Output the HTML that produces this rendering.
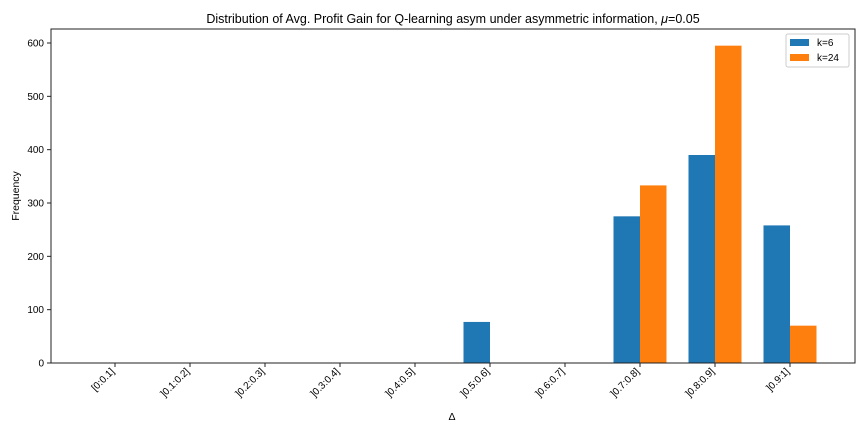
<!DOCTYPE html>
<html><head><meta charset="utf-8"><style>
body{margin:0;background:#fff}
svg{font-family:"Liberation Sans","DejaVu Sans",sans-serif}
</style></head><body>
<svg id="chart" width="864" height="432">
<rect width="864" height="432" fill="#fff"/>
<text x="453" y="23" font-size="12.5" text-anchor="middle">Distribution of Avg. Profit Gain for Q-learning asym under asymmetric information, <tspan font-style="italic">μ</tspan>=0.05</text>
<g id="bars"></g>
<g id="yaxis"></g>
<g id="xaxis"></g>
<rect x="51" y="29" width="804" height="334" fill="none" stroke="#222" stroke-width="1"/>
<text x="19" y="196" font-size="10.5" text-anchor="middle" transform="rotate(-90 19 196)">Frequency</text>
<text x="452" y="420" font-size="10.5" text-anchor="middle">Δ</text>
<g>
<rect x="786" y="34" width="63" height="33" fill="#fff" stroke="#ccc" rx="2"/>
<rect x="790" y="39" width="19" height="7" fill="#1f77b4"/>
<text x="817" y="46" font-size="10">k=6</text>
<rect x="790" y="54" width="19" height="7" fill="#ff7f0e"/>
<text x="817" y="61" font-size="10">k=24</text>
</g>
</svg>
<script>
const categories=["[0:0.1]","]0.1:0.2]","]0.2:0.3]","]0.3:0.4]","]0.4:0.5]","]0.5:0.6]","]0.6:0.7]","]0.7:0.8]","]0.8:0.9]","]0.9:1]"];
const seriesK6=[0,0,0,0,0,77,0,275,390,258];
const seriesK24=[0,0,0,0,0,0,0,333,595,70];
const yTicks=[0,100,200,300,400,500,600];
const NS="http://www.w3.org/2000/svg";
function xPos(i){return 115+i*75;}
function yPos(v){return 363-v*(320/600);}
function mk(tag,attrs,parent){const e=document.createElementNS(NS,tag);for(const k in attrs)e.setAttribute(k,attrs[k]);parent.appendChild(e);return e;}
const bars=document.getElementById('bars'),ya=document.getElementById('yaxis'),xa=document.getElementById('xaxis');
const bw=26.5;
categories.forEach((c,i)=>{
  [[seriesK6,'#1f77b4',-1,'k6'],[seriesK24,'#ff7f0e',0,'k24']].forEach(([s,col,off,nm])=>{
    const v=s[i]; if(v<=0)return;
    const r=mk('rect',{x:xPos(i)+off*bw,y:yPos(v),width:bw,height:yPos(0)-yPos(v),fill:col},bars);
    
    
  });
  const x=xPos(i);
  mk('line',{x1:x,x2:x,y1:363,y2:367,stroke:'#222'},xa);
  const t=mk('text',{x:x,y:372,'font-size':10,'text-anchor':'end',transform:`rotate(-45 ${x} 372)`},xa);
  t.textContent=c;
  
  
});
yTicks.forEach(v=>{
  const y=yPos(v);
  mk('line',{x1:47,x2:51,y1:y,y2:y,stroke:'#222'},ya);
  const t=mk('text',{x:44,y:y+3.5,'font-size':10,'text-anchor':'end'},ya);
  t.textContent=v;
  
  
});
</script>
</body></html>
